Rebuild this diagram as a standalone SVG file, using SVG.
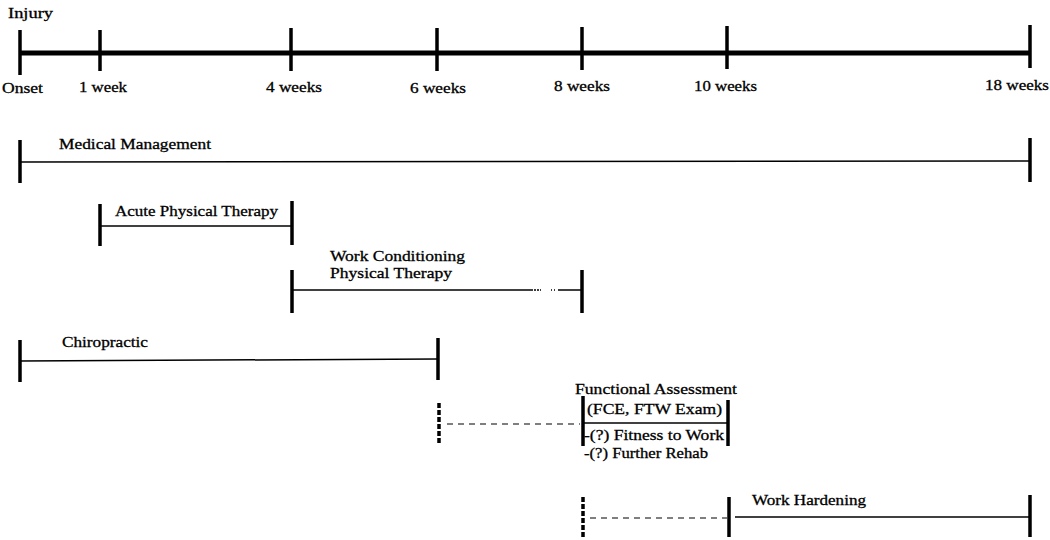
<svg xmlns="http://www.w3.org/2000/svg" width="1050" height="540" viewBox="0 0 1050 540">
<style>
text{font-family:"Liberation Serif","DejaVu Serif","Times New Roman",serif;font-size:15px;fill:#000;stroke:#000;stroke-width:0.3}
.tick{stroke:#000;stroke-width:3.5;fill:none}
.dtick{stroke:#000;stroke-width:3.5;stroke-dasharray:5,2;fill:none}
.bar{stroke:#000;stroke-width:1.5;fill:none}
.dash{stroke:#000;stroke-width:1.2;stroke-dasharray:6,5;fill:none}
.axis{stroke:#000;stroke-width:5;fill:none}
</style>
<rect width="1050" height="540" fill="#fff"/>
<g id="timeline">
<line class="axis" x1="19" y1="53" x2="1030" y2="53"/>
<line class="tick" x1="20" y1="30" x2="20" y2="75"/>
<line class="tick" x1="100" y1="30" x2="100" y2="71"/>
<line class="tick" x1="291" y1="28" x2="291" y2="71"/>
<line class="tick" x1="437" y1="28" x2="437" y2="71"/>
<line class="tick" x1="582" y1="27" x2="582" y2="70"/>
<line class="tick" x1="727" y1="26" x2="727" y2="69"/>
<line class="tick" x1="1030" y1="25" x2="1030" y2="68"/>
<text x="8" y="18" textLength="45" lengthAdjust="spacingAndGlyphs">Injury</text>
<text x="2" y="93" textLength="41" lengthAdjust="spacingAndGlyphs">Onset</text>
<text x="79" y="92" textLength="48" lengthAdjust="spacingAndGlyphs">1 week</text>
<text x="266" y="92" textLength="56" lengthAdjust="spacingAndGlyphs">4 weeks</text>
<text x="410" y="93" textLength="56" lengthAdjust="spacingAndGlyphs">6 weeks</text>
<text x="554" y="91" textLength="56" lengthAdjust="spacingAndGlyphs">8 weeks</text>
<text x="694" y="91" textLength="63" lengthAdjust="spacingAndGlyphs">10 weeks</text>
<text x="985" y="90" textLength="64" lengthAdjust="spacingAndGlyphs">18 weeks</text>
</g>
<g id="medical-management">
<text x="59" y="149" textLength="152" lengthAdjust="spacingAndGlyphs">Medical Management</text>
</g>
<g id="acute-physical-therapy">
<text x="115" y="216" textLength="163" lengthAdjust="spacingAndGlyphs">Acute Physical Therapy</text>
</g>
<g id="work-conditioning">
<text x="330" y="261" textLength="135" lengthAdjust="spacingAndGlyphs">Work Conditioning</text>
<text x="330" y="278" textLength="122" lengthAdjust="spacingAndGlyphs">Physical Therapy</text>
</g>
<g id="chiropractic">
<text x="62" y="347" textLength="86" lengthAdjust="spacingAndGlyphs">Chiropractic</text>
</g>
<g id="functional-assessment">
<text x="575" y="394" textLength="162" lengthAdjust="spacingAndGlyphs">Functional Assessment</text>
<text x="587" y="414" textLength="135" lengthAdjust="spacingAndGlyphs">(FCE, FTW Exam)</text>
<text x="584" y="440" textLength="140" lengthAdjust="spacingAndGlyphs">-(?) Fitness to Work</text>
<text x="584" y="458" textLength="124" lengthAdjust="spacingAndGlyphs">-(?) Further Rehab</text>
</g>
<g id="work-hardening">
<text x="752" y="505" textLength="114" lengthAdjust="spacingAndGlyphs">Work Hardening</text>
</g>
<g id="connectors">
<line class="bar" x1="20" y1="162" x2="1030" y2="161"/>
<line class="tick" x1="20" y1="140" x2="20" y2="183"/>
<line class="tick" x1="1030" y1="138" x2="1030" y2="182"/>
<line class="bar" x1="100" y1="226" x2="292" y2="226"/>
<line class="tick" x1="100" y1="204" x2="100" y2="246"/>
<line class="tick" x1="292" y1="201" x2="292" y2="245"/>
<line class="bar" x1="292" y1="290" x2="533" y2="290"/>
<line class="bar" x1="534" y1="290" x2="541" y2="290" stroke-dasharray="2,1"/>
<line class="bar" x1="551" y1="290" x2="556" y2="290" stroke-dasharray="1,2"/>
<line class="bar" x1="558" y1="290" x2="582" y2="290"/>
<line class="tick" x1="292" y1="270" x2="292" y2="313"/>
<line class="tick" x1="582" y1="270" x2="582" y2="313"/>
<line class="bar" x1="20" y1="361" x2="437" y2="359"/>
<line class="tick" x1="20" y1="340" x2="20" y2="382"/>
<line class="tick" x1="438" y1="338" x2="438" y2="380"/>
<line class="dtick" x1="439" y1="403" x2="439" y2="445"/>
<line class="dash" x1="447" y1="424" x2="580" y2="424"/>
<line class="tick" x1="583" y1="396" x2="583" y2="446"/>
<line class="bar" x1="583" y1="423" x2="728" y2="423"/>
<line class="tick" x1="728" y1="400" x2="728" y2="446"/>
<line class="dtick" x1="583" y1="497" x2="583" y2="537"/>
<line class="dash" x1="590" y1="518" x2="727" y2="518"/>
<line class="tick" x1="729" y1="497" x2="729" y2="537"/>
<line class="bar" x1="735" y1="517" x2="1030" y2="517"/>
<line class="tick" x1="1030" y1="495" x2="1030" y2="537"/>
</g>
</svg>
